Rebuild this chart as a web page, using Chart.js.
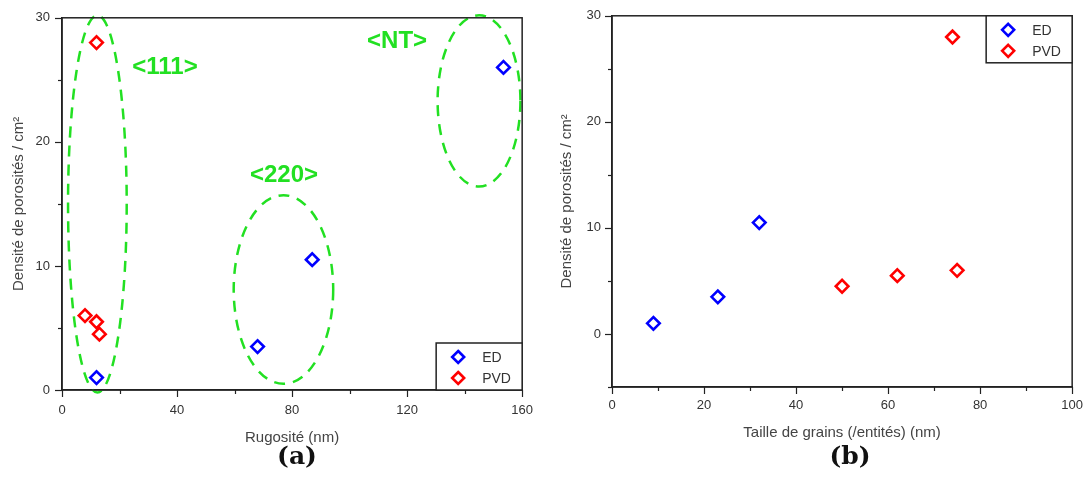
<!DOCTYPE html>
<html id="html">
<head>
<meta charset="utf-8">
<script src="https://cdn.jsdelivr.net/npm/chart.js@4"></script>
<style>
  body { margin: 0; background: #fff; }
  #wrap { position: relative; width: 1088px; height: 500px; overflow: hidden; }
  #wrapA { position: absolute; left: 0; top: -2px; width: 546px; height: 462px; }
  #wrapB { position: absolute; left: 540px; top: -3px; width: 554px; height: 463px; }
  .cap { position: absolute; top: 441px; width: 120px; text-align: center;
         font: bold 25px "DejaVu Serif", serif; color: #111; }
</style>
</head>
<body>
<div id="wrap">
  <div id="wrapA"><canvas id="chartA"></canvas></div>
  <div id="wrapB"><canvas id="chartB"></canvas></div>
  <div class="cap" style="left:237px">(a)</div>
  <div class="cap" style="left:790px">(b)</div>
</div>
<script>
// (a) rugosité
const edRug = [12, 68, 87, 153.5]
const edRugDens = [1, 3.5, 10.5, 26]
const pvdRug = [12, 8, 12, 13]
const pvdRugDens = [28, 6, 5.5, 4.5]

// (b) taille de grains
const edGrain = [9, 23, 32]
const edGrainDens = [1, 3.5, 10.5]
const pvdGrain = [50, 62, 75, 74]
const pvdGrainDens = [4.5, 5.5, 6, 28]

// zones (a), en unités des axes
const zoneNames = ['<111>', '<220>', '<NT>']
const zoneCx = [12.3, 77, 145]
const zoneCy = [15, 8.1, 23.3]
const zoneRx = [10.2, 17.3, 14.4]
const zoneRy = [15.2, 7.6, 6.9]
const zoneTextX = [35.8, 77.2, 116.5]
const zoneTextY = [26, 17.3, 28.1]

const GREEN = '#22e022'
const AXIS = '#222'

function pts(xs, ys){ return xs.map((x,i)=>({x:x, y:ys[i]})) }

function ds(label, xs, ys, color){
    return {
        label: label,
        data: pts(xs, ys),
        pointStyle: 'rectRot',
        pointRadius: 6.3,
        pointHoverRadius: 6.3,
        borderWidth: 2.6,
        borderColor: color,
        backgroundColor: 'rgba(0,0,0,0)',
        showLine: false
    }
}

// cadre + graduations (majeures longues, mineures courtes)
const frame = {
    id: 'frame',
    afterDraw(chart){
        const c = chart.ctx, a = chart.chartArea
        c.save()
        c.strokeStyle = AXIS
        c.lineWidth = 1.5
        c.strokeRect(a.left, a.top, a.right - a.left, a.bottom - a.top)
        c.lineWidth = 1.2
        const sx = chart.scales.x, sy = chart.scales.y
        sx.ticks.forEach(t=>{
            const p = Math.round(sx.getPixelForValue(t.value)) + 0.5
            const len = t.label !== '' ? 7 : 4
            c.beginPath(); c.moveTo(p, a.bottom); c.lineTo(p, a.bottom + len); c.stroke()
        })
        sy.ticks.forEach(t=>{
            const p = Math.round(sy.getPixelForValue(t.value)) + 0.5
            const len = t.label !== '' ? 7 : 4
            c.beginPath(); c.moveTo(a.left, p); c.lineTo(a.left - len, p); c.stroke()
        })
        c.restore()
    }
}

// légende encadrée dans la zone du graphe
const boxLegend = {
    id: 'boxLegend',
    afterDraw(chart, args, opts){
        const c = chart.ctx, a = chart.chartArea
        const w = 86, h = 47
        const left = a.right - w
        const top = opts.where === 'top' ? a.top : a.bottom - h
        c.save()
        c.fillStyle = '#fff'
        c.fillRect(left, top, w, h)
        c.strokeStyle = AXIS
        c.lineWidth = 1.5
        c.strokeRect(left, top, w, h)
        chart.data.datasets.forEach((d, i)=>{
            const y = top + 14 + i * 21
            const x = left + 22
            c.beginPath()
            c.moveTo(x, y - 6); c.lineTo(x + 6, y); c.lineTo(x, y + 6); c.lineTo(x - 6, y); c.closePath()
            c.strokeStyle = d.borderColor
            c.lineWidth = 2.6
            c.stroke()
            c.fillStyle = '#333'
            c.font = '14px "Liberation Sans", Arial, sans-serif'
            c.textBaseline = 'middle'
            c.fillText(d.label, left + 46, y + 1)
        })
        c.restore()
    }
}

// ellipses pointillées vertes + étiquettes
const zones = {
    id: 'zones',
    beforeDatasetsDraw(chart){
        const c = chart.ctx, sx = chart.scales.x, sy = chart.scales.y
        c.save()
        c.strokeStyle = GREEN
        c.lineWidth = 2.5
        c.setLineDash([11, 8])
        zoneNames.forEach((n, i)=>{
            const cx = sx.getPixelForValue(zoneCx[i]), cy = sy.getPixelForValue(zoneCy[i])
            const rx = Math.abs(sx.getPixelForValue(zoneCx[i] + zoneRx[i]) - cx)
            const ry = Math.abs(sy.getPixelForValue(zoneCy[i] + zoneRy[i]) - cy)
            c.beginPath()
            c.ellipse(cx, cy, rx, ry, 0, 0, Math.PI * 2)
            c.stroke()
        })
        c.setLineDash([])
        c.fillStyle = GREEN
        c.font = 'bold 24px "Liberation Sans", Arial, sans-serif'
        c.textAlign = 'center'
        c.textBaseline = 'middle'
        zoneNames.forEach((n, i)=>{
            c.fillText(n, sx.getPixelForValue(zoneTextX[i]), sy.getPixelForValue(zoneTextY[i]))
        })
        c.restore()
    }
}

function axes(xmin, xmax, xstep, xmajor, ymin, ymax, ymajor, xtitle, yw, xh, ytp, xtp, xpad, ypad){
    return {
        x: {
            type: 'linear', min: xmin, max: xmax,
            grid: { drawOnChartArea: false, drawTicks: false },
            border: { display: true, color: AXIS, width: 1.5 },
            ticks: {
                stepSize: xstep, autoSkip: false, maxRotation: 0, padding: xpad,
                color: '#333', font: { family: '"Liberation Sans", Arial, sans-serif', size: 13 },
                callback: v => v % xmajor === 0 ? v : ''
            },
            title: {
                display: true, text: xtitle, color: '#444',
                font: { family: '"Liberation Sans", Arial, sans-serif', size: 15 },
                padding: { top: 0, bottom: xtp }
            },
            afterFit: s => { s.height = xh }
        },
        y: {
            type: 'linear', min: ymin, max: ymax,
            grid: { drawOnChartArea: false, drawTicks: false },
            border: { display: true, color: AXIS, width: 1.5 },
            ticks: {
                stepSize: 5, autoSkip: false, padding: ypad,
                color: '#333', font: { family: '"Liberation Sans", Arial, sans-serif', size: 13 },
                callback: v => v % ymajor === 0 ? v : ''
            },
            title: {
                display: true, text: 'Densité de porosités / cm²', color: '#444',
                font: { family: '"Liberation Sans", Arial, sans-serif', size: 15 },
                padding: { top: ytp, bottom: 0 }
            },
            afterFit: s => { s.width = yw }
        }
    }
}

new Chart(document.getElementById('chartA'), {
    type: 'scatter',
    data: { datasets: [ds('ED', edRug, edRugDens, '#0000ff'), ds('PVD', pvdRug, pvdRugDens, '#ff0000')] },
    options: {
        responsive: true, maintainAspectRatio: false, animation: false,
        layout: { padding: { top: 16, right: 12, left: 0, bottom: 0 } },
        plugins: { legend: { display: false }, tooltip: { enabled: false }, boxLegend: { where: 'bottom' } },
        scales: axes(0, 160, 20, 40, 0, 30, 10, 'Rugosité (nm)', 62, 70, 10, 13, 13, 12)
    },
    plugins: [zones, frame, boxLegend]
})

new Chart(document.getElementById('chartB'), {
    type: 'scatter',
    data: { datasets: [ds('ED', edGrain, edGrainDens, '#0000ff'), ds('PVD', pvdGrain, pvdGrainDens, '#ff0000')] },
    options: {
        responsive: true, maintainAspectRatio: false, animation: false,
        layout: { padding: { top: 12, right: 10, left: 0, bottom: 0 } },
        plugins: { legend: { display: false }, tooltip: { enabled: false }, boxLegend: { where: 'top' } },
        scales: axes(0, 100, 10, 20, -5, 30, 10, 'Taille de grains (/entités) (nm)', 72, 73, 18, 18, 11, 11)
    },
    plugins: [frame, boxLegend]
})
</script>
</body>
</html>
